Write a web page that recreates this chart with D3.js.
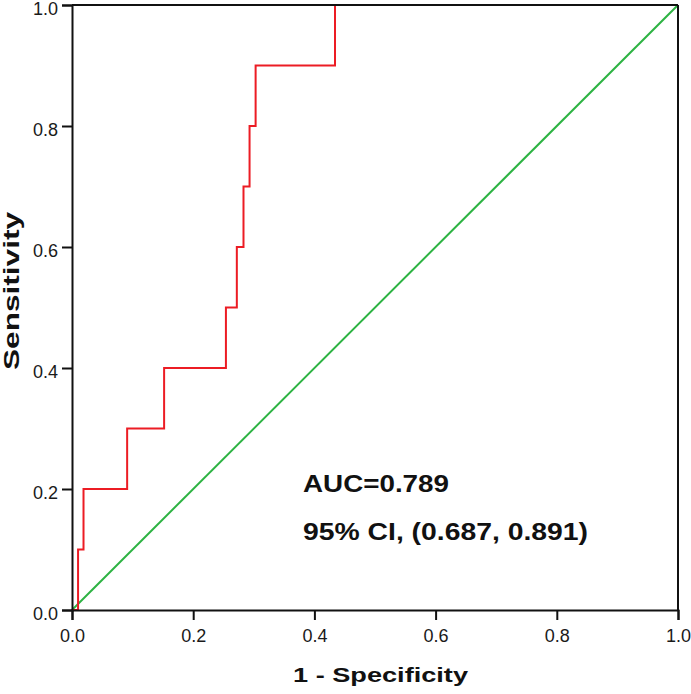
<!DOCTYPE html>
<html><head><meta charset="utf-8">
<script src="https://cdn.jsdelivr.net/npm/d3@7"></script>
<style>body{margin:0;background:#fff;}svg{display:block;}</style>
</head><body>
<div id="chart"></div>
<script>
// ROC curve points (1 - specificity, sensitivity)
const fpr = [0, 0.010, 0.019, 0.091, 0.152, 0.254, 0.272, 0.283, 0.293, 0.303, 0.434, 1.0];
const tpr = [0, 0.1, 0.2, 0.3, 0.4, 0.5, 0.6, 0.7, 0.8, 0.9, 1.0, 1.0];
const refLine = [0, 1];
const ticks = [0, 0.2, 0.4, 0.6, 0.8, 1.0];
const aucText = "AUC=0.789";
const ciText = "95% CI, (0.687, 0.891)";

const W = 691, H = 694;
const m = {left: 72, right: 13, top: 5, bottom: 84};
const svg = d3.select("#chart").append("svg").attr("width", W).attr("height", H);
const x = d3.scaleLinear().domain([0, 1]).range([m.left, W - m.right]);
const y = d3.scaleLinear().domain([0, 1]).range([H - m.bottom, m.top]);
const font = "'Liberation Sans', Arial, sans-serif";

// reference diagonal
svg.append("line")
  .attr("x1", x(refLine[0])).attr("y1", y(refLine[0]))
  .attr("x2", x(refLine[1])).attr("y2", y(refLine[1]))
  .attr("stroke", "#2db343").attr("stroke-width", 2);

// ROC step curve
const pts = fpr.map((f, i) => [f, tpr[i]]);
svg.append("path").datum(pts)
  .attr("fill", "none").attr("stroke", "#ec1c24").attr("stroke-width", 2)
  .attr("d", d3.line().x(d => x(d[0])).y(d => y(d[1])).curve(d3.curveStepAfter));

// frame (top/right)
svg.append("line").attr("x1", x(0)).attr("x2", x(1)).attr("y1", y(1)).attr("y2", y(1))
  .attr("stroke", "#111").attr("stroke-width", 2);
svg.append("line").attr("x1", x(1)).attr("x2", x(1)).attr("y1", y(0)).attr("y2", y(1))
  .attr("stroke", "#111").attr("stroke-width", 2);

// axes
const xAxis = svg.append("g").attr("transform", `translate(0,${y(0)})`)
  .call(d3.axisBottom(x).tickValues(ticks).tickFormat(d3.format(".1f")).tickSize(10).tickPadding(9));
const yAxis = svg.append("g").attr("transform", `translate(${x(0)},0)`)
  .call(d3.axisLeft(y).tickValues(ticks).tickFormat(d3.format(".1f")).tickSize(10).tickPadding(4));
[xAxis, yAxis].forEach(g => {
  g.select(".domain").attr("stroke", "#111").attr("stroke-width", 2);
  g.selectAll(".tick line").attr("stroke", "#111").attr("stroke-width", 2);
  g.selectAll(".tick text").attr("font-family", font).attr("font-size", 18).attr("fill", "#1a1a1a");
});
yAxis.selectAll(".tick text").attr("dy", "0.5em");

// axis titles
svg.append("text").attr("x", 293).attr("y", 682)
  .attr("font-family", font).attr("font-weight", "bold").attr("font-size", 20)
  .attr("textLength", 175).attr("lengthAdjust", "spacingAndGlyphs")
  .attr("fill", "#111").text("1 - Specificity");
svg.append("text").attr("transform", "translate(19,370) rotate(-90)")
  .attr("font-family", font).attr("font-weight", "bold").attr("font-size", 22)
  .attr("textLength", 158).attr("lengthAdjust", "spacingAndGlyphs")
  .attr("fill", "#111").text("Sensitivity");

// annotations
svg.append("text").attr("x", 303).attr("y", 492)
  .attr("font-family", font).attr("font-weight", "bold").attr("font-size", 24)
  .attr("textLength", 146).attr("lengthAdjust", "spacingAndGlyphs")
  .attr("fill", "#111").text(aucText);
svg.append("text").attr("x", 303).attr("y", 540)
  .attr("font-family", font).attr("font-weight", "bold").attr("font-size", 24)
  .attr("textLength", 285).attr("lengthAdjust", "spacingAndGlyphs")
  .attr("fill", "#111").text(ciText);
</script>
</body></html>
